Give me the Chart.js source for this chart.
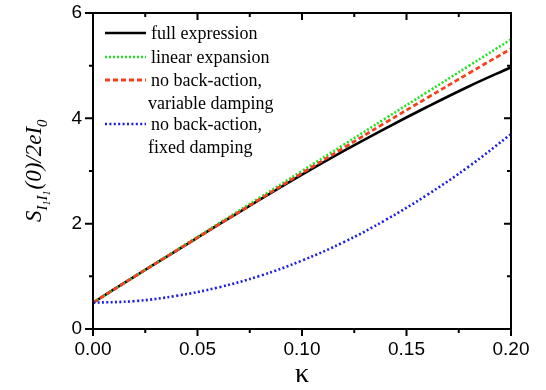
<!DOCTYPE html>
<html>
<head>
<meta charset="utf-8">
<script src="https://cdn.jsdelivr.net/npm/chart.js@4/dist/chart.umd.min.js"></script>
<style>
  html, body { margin: 0; padding: 0; background: #fff; }
  #wrap { width: 546px; height: 390px; position: relative; }
</style>
</head>
<body>
<div id="wrap"><canvas id="c" width="546" height="390"></canvas></div>
<script>
// ---- data ----
const kappa      = [0.00, 0.02, 0.04, 0.06, 0.08, 0.10, 0.12, 0.14, 0.16, 0.18, 0.20];
const fullExpr   = [0.50, 1.00, 1.49, 1.98, 2.46, 2.93, 3.38, 3.81, 4.22, 4.61, 4.97];
const linearExp  = [0.50, 1.00, 1.50, 2.00, 2.50, 3.00, 3.50, 4.00, 4.50, 5.00, 5.50];
const noBAVar    = [0.50, 1.00, 1.49, 1.98, 2.47, 2.96, 3.44, 3.92, 4.39, 4.86, 5.32];
const noBAFixed  = [0.50, 0.53, 0.63, 0.79, 1.01, 1.30, 1.65, 2.07, 2.55, 3.09, 3.70];
const xTickVals  = [0.00, 0.05, 0.10, 0.15, 0.20];
const yTickVals  = [0, 2, 4, 6];
const xMinorVals = [0.025, 0.075, 0.125, 0.175];
const yMinorVals = [1, 3, 5];
const seriesNames = ['full expression', 'linear expansion', ['no back-action,', 'variable damping'], ['no back-action,', 'fixed damping']];

const pts = arr => kappa.map((k, i) => ({ x: k, y: arr[i] }));

const COLORS = ['#000000', '#22e322', '#f5401e', '#1c1ce8'];
const DASHES = [[], [2, 2], [5, 3], [2, 2.4]];
const WIDTHS = [2.6, 2.6, 2.8, 2.6];

const framePlugin = {
  id: 'frame',
  afterDatasetsDraw(chart) {
    const { ctx, chartArea: a, scales: { x, y } } = chart;
    ctx.save();
    ctx.strokeStyle = '#000';
    ctx.lineWidth = 2;
    ctx.strokeRect(a.left, a.top, a.right - a.left, a.bottom - a.top);
    ctx.beginPath();
    xTickVals.forEach(v => {
      const px = x.getPixelForValue(v);
      ctx.moveTo(px, a.bottom); ctx.lineTo(px, a.bottom + 7);
      ctx.moveTo(px, a.top); ctx.lineTo(px, a.top + 7);
    });
    xMinorVals.forEach(v => {
      const px = x.getPixelForValue(v);
      ctx.moveTo(px, a.bottom); ctx.lineTo(px, a.bottom + 4);
      ctx.moveTo(px, a.top); ctx.lineTo(px, a.top + 4);
    });
    yTickVals.forEach(v => {
      const py = y.getPixelForValue(v);
      ctx.moveTo(a.left, py); ctx.lineTo(a.left - 8, py);
      ctx.moveTo(a.right, py); ctx.lineTo(a.right - 7, py);
    });
    yMinorVals.forEach(v => {
      const py = y.getPixelForValue(v);
      ctx.moveTo(a.left, py); ctx.lineTo(a.left - 4, py);
      ctx.moveTo(a.right, py); ctx.lineTo(a.right - 4, py);
    });
    ctx.stroke();

    // legend
    const rows = [33, 57, 80, 124];
    ctx.font = '18px "Liberation Serif", "Times New Roman", serif';
    ctx.fillStyle = '#000';
    ctx.textBaseline = 'middle';
    ctx.textAlign = 'left';
    seriesNames.forEach((name, i) => {
      const yy = rows[i];
      ctx.save();
      ctx.strokeStyle = COLORS[i];
      ctx.lineWidth = WIDTHS[i];
      ctx.setLineDash(DASHES[i]);
      ctx.beginPath();
      ctx.moveTo(105, yy); ctx.lineTo(146, yy);
      ctx.stroke();
      ctx.restore();
      const lines = Array.isArray(name) ? name : [name];
      lines.forEach((t, j) => {
        ctx.fillText(t, j === 0 ? 151 : 148, yy + 1 + j * 23);
      });
    });

    // x-axis title
    ctx.font = '28px "Liberation Serif", "Times New Roman", serif';
    ctx.textAlign = 'center';
    ctx.textBaseline = 'alphabetic';
    ctx.fillText('κ', (a.left + a.right) / 2, 382);

    // y-axis title: S_{I1 I1}(0)/2eI_0 (rotated)
    ctx.save();
    ctx.translate(41, 222);
    ctx.rotate(-Math.PI / 2);
    ctx.textAlign = 'left';
    let cx = 0;
    const part = (t, size, dy) => {
      ctx.font = 'italic ' + size + 'px "Liberation Serif", "Times New Roman", serif';
      ctx.fillText(t, cx, dy);
      cx += ctx.measureText(t).width;
    };
    part('S', 23, 0);
    part('I', 15, 6);
    part('1', 10, 9);
    part('I', 15, 6);
    part('1', 10, 9);
    cx += 1;
    part('(0)/2eI', 23, 0);
    part('0', 15, 6);
    ctx.restore();
    ctx.restore();
  }
};

const ds = [fullExpr, linearExp, noBAVar, noBAFixed].map((arr, i) => ({
  label: Array.isArray(seriesNames[i]) ? seriesNames[i].join(' ') : seriesNames[i],
  data: pts(arr),
  borderColor: COLORS[i],
  backgroundColor: COLORS[i],
  borderWidth: WIDTHS[i],
  borderDash: DASHES[i],
  pointRadius: 0,
  fill: false,
  tension: 0.4,
  order: 4 - i
}));

new Chart(document.getElementById('c'), {
  type: 'line',
  data: { datasets: ds },
  options: {
    responsive: false,
    animation: false,
    devicePixelRatio: 1,
    layout: { padding: { left: 0, top: 13, right: 35, bottom: 0 } },
    plugins: { legend: { display: false }, tooltip: { enabled: false } },
    scales: {
      x: {
        type: 'linear', min: 0, max: 0.2,
        grid: { display: false, drawTicks: false },
        border: { display: false },
        ticks: {
          stepSize: 0.05, padding: 9, color: '#000', maxRotation: 0,
          font: { family: '"Liberation Sans", Arial, sans-serif', size: 19 },
          callback: v => v.toFixed(2)
        },
        afterBuildTicks: s => { s.ticks = xTickVals.map(v => ({ value: v })); },
        afterFit: s => { s.height = 61; s.paddingLeft = 0; s.paddingRight = 0; }
      },
      y: {
        type: 'linear', min: 0, max: 6,
        grid: { display: false, drawTicks: false },
        border: { display: false },
        ticks: {
          stepSize: 2, padding: 11, color: '#000',
          font: { family: '"Liberation Sans", Arial, sans-serif', size: 19 }
        },
        afterBuildTicks: s => { s.ticks = yTickVals.map(v => ({ value: v })); },
        afterFit: s => { s.width = 93; s.paddingTop = 0; s.paddingBottom = 0; }
      }
    }
  },
  plugins: [framePlugin]
});
</script>
</body>
</html>
